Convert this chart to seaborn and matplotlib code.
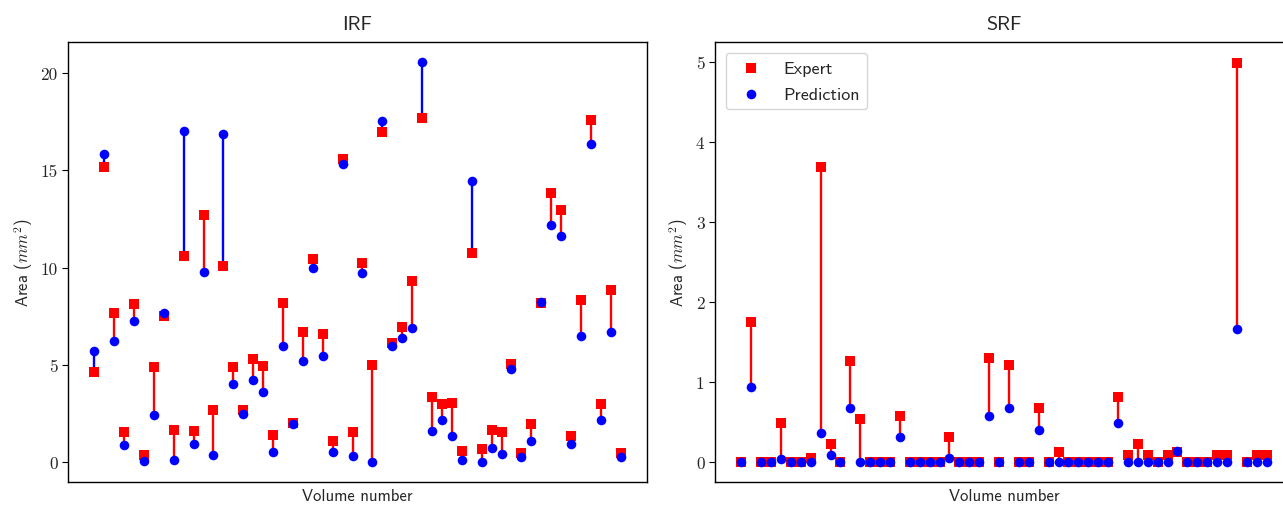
import numpy as np
import matplotlib
matplotlib.use("Agg")
import matplotlib.pyplot as plt
import seaborn as sns

# Areas per volume (mm^2)
irf_expert = [4.65, 15.16, 7.68, 1.56, 8.10, 0.36, 4.91, 7.50, 1.66, 10.57,
              1.61, 12.71, 2.66, 10.07, 4.89, 2.69, 5.32, 4.94, 1.39, 8.18,
              2.02, 6.69, 10.43, 6.60, 1.08, 15.57, 1.56, 10.21, 4.99, 16.96,
              6.11, 6.96, 9.31, 17.67, 3.33, 2.97, 3.05, 0.57, 10.75, 0.69,
              1.66, 1.56, 5.03, 0.46, 1.97, 8.20, 13.81, 12.95, 1.36, 8.32,
              17.58, 2.97, 8.82, 0.46]
irf_pred = [5.71, 15.83, 6.21, 0.86, 7.24, 0.05, 2.42, 7.65, 0.09, 17.00,
            0.91, 9.79, 0.36, 16.86, 4.00, 2.47, 4.24, 3.60, 0.53, 5.99,
            1.94, 5.21, 9.98, 5.45, 0.50, 15.35, 0.31, 9.71, 0.00, 17.53,
            5.99, 6.38, 6.88, 20.57, 1.61, 2.16, 1.34, 0.09, 14.44, 0.00,
            0.72, 0.41, 4.79, 0.24, 1.06, 8.25, 12.20, 11.60, 0.94, 6.48,
            16.33, 2.16, 6.71, 0.24]

srf_expert = [0, 1.75, 0, 0, 0.49, 0, 0, 0.05, 3.69, 0.22,
              0, 1.26, 0.54, 0, 0, 0, 0.58, 0, 0, 0,
              0, 0.31, 0, 0, 0, 1.30, 0, 1.21, 0, 0,
              0.67, 0, 0.13, 0, 0, 0, 0, 0, 0.81, 0.09,
              0.22, 0.09, 0, 0.09, 0.13, 0, 0, 0, 0.09, 0.09,
              4.99, 0, 0.09, 0.09]
srf_pred = [0, 0.94, 0, 0, 0.04, 0, 0, 0, 0.36, 0.09,
            0, 0.68, 0, 0, 0, 0, 0.31, 0, 0, 0,
            0, 0.05, 0, 0, 0, 0.58, 0, 0.68, 0, 0,
            0.40, 0, 0, 0, 0, 0, 0, 0, 0.49, 0,
            0, 0, 0, 0, 0.14, 0, 0, 0, 0, 0,
            1.66, 0, 0, 0]

sns.set_style("white")
plt.rcParams["font.family"] = ["cmss10", "DejaVu Sans"]
plt.rcParams["mathtext.fontset"] = "cm"
plt.rcParams["axes.unicode_minus"] = False
plt.rcParams["axes.edgecolor"] = "black"
plt.rcParams["xtick.bottom"] = False
plt.rcParams["ytick.left"] = True

fig = plt.figure(figsize=(12.83, 5.06), dpi=100)
ax1 = fig.add_axes([68 / 1283, 23 / 506, 579 / 1283, 440 / 506])
ax2 = fig.add_axes([715 / 1283, 23 / 506, 578 / 1283, 440 / 506])


def draw(ax, expert, pred, title, legend=False):
    expert = np.array(expert)
    pred = np.array(pred)
    idx = np.arange(len(expert))
    # connecting lines: red when expert is higher, blue when prediction is higher
    up = expert >= pred
    ax.vlines(idx[up], pred[up], expert[up], color="red", linewidth=1.7, zorder=1)
    ax.vlines(idx[~up], expert[~up], pred[~up], color="blue", linewidth=1.7, zorder=1)
    sns.scatterplot(x=idx, y=expert, marker="s", color="red", s=46,
                    linewidth=0, label="Expert", ax=ax, zorder=2, legend=legend)
    sns.scatterplot(x=idx, y=pred, marker="o", color="blue", s=48,
                    linewidth=0, label="Prediction", ax=ax, zorder=3, legend=legend)
    ax.set_xticks([])
    ax.set_title(title, fontsize=14.5, pad=9)
    ax.set_xlabel("Volume number", fontsize=12)
    ax.set_ylabel("Area ($mm^2$)", fontsize=12)
    ax.tick_params(axis="y", labelsize=12.5, labelfontfamily="cmr10",
                   length=4, width=0.8, color="black")
    for sp in ax.spines.values():
        sp.set_color("black")
        sp.set_linewidth(1.0)
    if legend:
        ax.legend(loc="upper left", fontsize=13, labelspacing=0.6,
                  borderaxespad=0.6, handletextpad=0.8)
    elif ax.get_legend() is not None:
        ax.get_legend().remove()


draw(ax1, irf_expert, irf_pred, "IRF")
draw(ax2, srf_expert, srf_pred, "SRF", legend=True)

ax1.set_ylim(-1.03, 21.6)
ax2.set_ylim(-0.25, 5.25)

fig.savefig("out.png", dpi=100)
